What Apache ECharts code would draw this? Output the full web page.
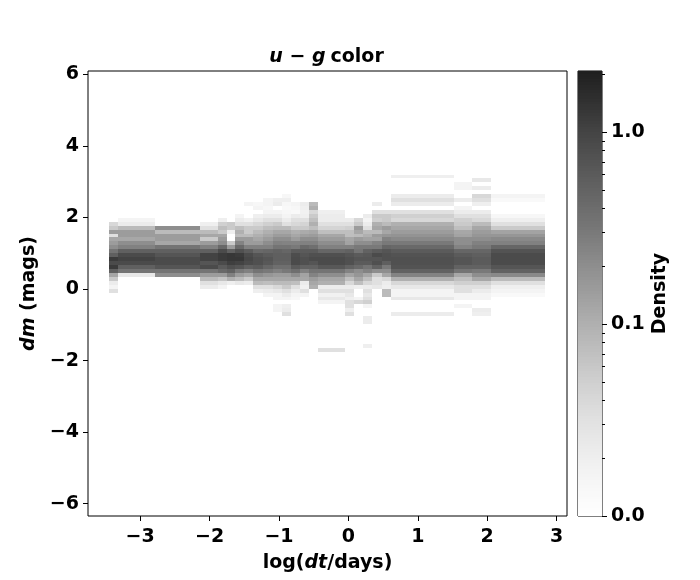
<!DOCTYPE html>
<html><head><meta charset="utf-8">
<script src="https://cdn.jsdelivr.net/npm/echarts@6/dist/echarts.min.js"></script>
<style>html,body{margin:0;padding:0;background:#fff}#c{width:700px;height:580px}</style>
</head><body><div id="c"></div>
<script>
// ---- data: 2D histogram of dm vs log(dt), density per column ----
const xEdges = [-3.454,-3.320,-2.791,-2.143,-1.883,-1.753,-1.628,-1.499,-1.369,-1.225,-1.091,-0.961,-0.827,-0.697,-0.572,-0.438,-0.053,0.076,0.210,0.346,0.480,0.610,1.517,1.777,2.051,2.829];
const yBinStart = -1.86;   // lower edge of dm bin 0
const yBinWidth = 0.11;    // dm bin width
const colStartBin = [16,20,20,17,17,18,18,18,16,15,11,10,14,15,17,1,10,13,2,17,15,10,12,10,15];
const colA = [0.032,0.016,0.022,0.056,0.12,0.54,1.19,0.85,1.19,0.54,0.34,0.2,0.15,0.12,0.032,0.15,0.056,0.04];
const colB = [0.025,0.34,0.54,0.85,1.02,0.85,0.54,0.26,0.2,0.12,0.15,0.15,0.079,0.022,0.016];
const colC = [0.2,0.34,0.68,0.85,0.85,0.68,0.54,0.34,0.12,0.15,0.15,0.079,0.2];
const colD = [0.022,0.032,0.079,0.15,0.34,0.85,0.68,1.02,1.02,0.54,0.26,0.15,0.056,0.12,0.079,0.032,0.02];
const colE = [0.016,0.025,0.063,0.15,0.43,0.6,0.85,1.19,1.19,0.85,0.43,0.2,0.15,0.12,0.056,0.071,0.05,0.02];
const colF = [0.02,0.1,0.26,0.51,0.77,1.1,1.28,1.28,0.54,0.15,0.056,0,0,0.02,0.056,0.056];
const colG = [0.025,0.079,0.15,0.3,0.68,1.02,1.28,1.19,0.77,0.43,0.25,0.15,0.079,0.1,0.071,0.032,0.022,0.016];
const colH = [0.022,0.056,0.12,0.26,0.54,0.85,0.94,0.85,0.6,0.26,0.15,0.15,0.079,0.056,0.056,0.032,0.018,0,0,0,0.016];
const colI = [0.02,0.032,0.079,0.12,0.2,0.34,0.6,0.77,0.77,0.68,0.43,0.26,0.15,0.12,0.1,0.079,0.056,0.04,0.025,0.02,0,0.016,0.014];
const colJ = [0.016,0.022,0.032,0.071,0.12,0.17,0.3,0.47,0.64,0.68,0.6,0.47,0.26,0.2,0.15,0.12,0.1,0.071,0.05,0.032,0.022,0.016,0.014,0.016,0.016];
const colK = [0.016,0.016,0,0.016,0.016,0.025,0.04,0.079,0.12,0.15,0.26,0.38,0.51,0.55,0.55,0.51,0.34,0.26,0.2,0.15,0.12,0.079,0.056,0.032,0.022,0.016,0,0.022,0.02];
const colL = [0.032,0.022,0.02,0,0.016,0.022,0.032,0.056,0.079,0.12,0.15,0.3,0.38,0.51,0.55,0.55,0.47,0.34,0.25,0.2,0.15,0.12,0.079,0.032,0.022,0.016,0.014,0.013,0.014,0.02,0.014];
const colM = [0.014,0.016,0.022,0.032,0.071,0.12,0.2,0.38,0.6,0.85,0.85,0.81,0.6,0.3,0.25,0.15,0.12,0.1,0.056,0.04,0.032,0.022,0.013,0.014,0.016];
const colN = [0.016,0.032,0.018,0.022,0.12,0.13,0.26,0.51,0.77,0.77,0.68,0.6,0.43,0.26,0.2,0.14,0.11,0.056,0.045,0.032,0.02,0.018,0.02,0.022];
const colO = [0.1,0.12,0.15,0.25,0.34,0.51,0.68,0.85,0.77,0.6,0.38,0.26,0.2,0.15,0.12,0.071,0.1,0.071,0.056,0.04,0.1,0.079];
const colP = [0.032,0,0,0,0,0,0,0,0,0,0,0,0.016,0.025,0.018,0.032,0.022,0.1,0.12,0.2,0.34,0.64,0.85,0.85,0.77,0.47,0.26,0.2,0.15,0.12,0.071,0.045,0.032,0.022,0.022,0.02];
const colQ = [0.032,0.02,0.032,0.032,0.02,0.025,0.032,0.022,0.04,0.071,0.13,0.25,0.51,0.77,0.77,0.68,0.51,0.26,0.13,0.12,0.071,0.071,0.05,0.032,0.022];
const colR = [0.04,0.016,0,0,0.02,0.071,0.12,0.17,0.2,0.43,0.6,0.68,0.6,0.34,0.3,0.2,0.15,0.079,0.12,0.15,0.056,0.04];
const colS = [0.02,0,0,0,0,0,0.022,0.022,0,0,0.016,0.05,0.032,0.025,0.032,0.022,0.04,0.071,0.12,0.25,0.34,0.6,0.68,0.64,0.51,0.3,0.2,0.13,0.1,0.079,0.032,0.022,0.016,0.022];
const colT = [0.025,0.032,0.032,0.056,0.2,0.51,0.77,0.68,0.85,0.6,0.3,0.25,0.13,0.15,0.079,0.12,0.1,0.05,0.056,0.032,0,0.022];
const colU = [0.079,0.079,0.02,0.022,0.04,0.12,0.2,0.3,0.55,0.77,0.77,0.68,0.47,0.3,0.25,0.17,0.12,0.15,0.079,0.056,0.056,0.032];
const colV = [0.022,0,0,0,0.025,0.016,0.016,0.025,0.04,0.1,0.25,0.51,0.72,0.77,0.77,0.72,0.6,0.43,0.3,0.22,0.18,0.15,0.12,0.1,0.04,0.05,0.032,0,0.022,0.032,0.022,0,0,0,0,0.02];
const colW = [0.016,0,0.016,0.016,0.032,0.032,0.05,0.071,0.12,0.34,0.51,0.68,0.68,0.6,0.47,0.25,0.2,0.2,0.13,0.12,0.071,0.056,0.05,0.032,0.022,0.016,0,0.022,0,0,0.016,0.016];
const colX = [0.02,0.022,0,0,0.016,0.016,0.022,0.032,0.05,0.12,0.2,0.3,0.51,0.6,0.6,0.55,0.47,0.3,0.26,0.2,0.17,0.15,0.12,0.079,0.04,0.032,0.022,0,0.02,0.032,0.04,0,0.022,0,0.025];
const colY = [0.013,0.016,0.02,0.032,0.079,0.22,0.51,0.68,0.85,0.85,0.85,0.72,0.47,0.26,0.22,0.17,0.13,0.056,0.032,0.02,0.014,0,0,0,0.013,0.016];
const columns = [colA,colB,colC,colD,colE,colF,colG,colH,colI,colJ,colK,colL,colM,colN,colO,colP,colQ,colR,colS,colT,colU,colV,colW,colX,colY];

const xTicks = [-3,-2,-1,0,1,2,3];
const yTicks = [-6,-4,-2,0,2,4,6];
const densityMin = 0.01, densityMax = 2.08;   // log colour norm
const cbarMajor = [0.01, 0.1, 1.0];
const cbarMinor = [0.02,0.03,0.04,0.05,0.06,0.07,0.08,0.09,0.2,0.3,0.4,0.5,0.6,0.7,0.8,0.9,2.0];

// ---- colour mapping (log norm, grey colormap) ----
const posMax = Math.log10(densityMax / densityMin);
const greyStops = [[0,255],[0.1,243],[0.2,228],[0.3,208],[0.43,176],[0.55,145],[0.65,118],[0.75,95],[0.863,68],[1,30]];
function greyAt(t) {
  t = Math.max(0, Math.min(1, t));
  for (let i = 1; i < greyStops.length; i++) {
    if (t <= greyStops[i][0]) {
      const [t0, g0] = greyStops[i-1], [t1, g1] = greyStops[i];
      const g = Math.round(g0 + (g1 - g0) * (t - t0) / (t1 - t0));
      return 'rgb(' + g + ',' + g + ',' + g + ')';
    }
  }
  return 'rgb(30,30,30)';
}
const toPos = v => Math.log10(v / densityMin);
function colorOf(v) { return greyAt(toPos(Math.max(v, densityMin)) / posMax); }

// ---- build cells ----
const cells = [];
columns.forEach((vals, ci) => {
  vals.forEach((v, k) => {
    if (v <= 0) return;
    const bin = colStartBin[ci] + k;
    const y0 = yBinStart + bin * yBinWidth;
    cells.push([xEdges[ci], xEdges[ci+1], y0, y0 + yBinWidth, v]);
  });
});
const cbarSteps = [];
const NSTEP = 160;
for (let i = 0; i < NSTEP; i++) cbarSteps.push([0, 1, posMax * i / NSTEP, posMax * (i + 1) / NSTEP]);

const FONT = 'DejaVu Sans';
const minus = v => (v < 0 ? '\u2212' + Math.abs(v) : String(v));
const boldRich = {
  b: { fontFamily: FONT, fontWeight: 'bold', fontSize: 19, color: '#000' },
  i: { fontFamily: FONT, fontWeight: 'bold', fontStyle: 'italic', fontSize: 19, color: '#000' }
};

function rectItem(api, x0, x1, y0, y1, fill) {
  const a = api.coord([x0, y1]);
  const b = api.coord([x1, y0]);
  const x = Math.round(a[0]), y = Math.round(a[1]);
  return { type: 'rect', shape: { x: x, y: y, width: Math.round(b[0]) - x, height: Math.round(b[1]) - y }, style: { fill: fill } };
}

const chart = echarts.init(document.getElementById('c'), null, { renderer: 'canvas' });
chart.setOption({
  animation: false,
  backgroundColor: '#fff',
  title: {
    text: '{i|u \u2212 g} {b|color}',
    left: 321.5, top: 43, textAlign: 'center',
    textStyle: { rich: boldRich }
  },
  grid: [
    { left: 88, top: 71, width: 479, height: 445, show: true, borderColor: '#000', borderWidth: 1, backgroundColor: 'transparent' },
    { left: 578, top: 71, width: 24, height: 445, show: true, borderColor: '#000', borderWidth: 1, backgroundColor: 'transparent' }
  ],
  xAxis: [
    {
      gridIndex: 0, type: 'value', min: -3.752, max: 3.150, position: 'bottom',
      axisLine: { show: false, onZero: false }, splitLine: { show: false },
      axisTick: { show: true, length: 5, lineStyle: { color: '#000' }, customValues: xTicks },
      axisLabel: { show: true, margin: 12, customValues: xTicks, formatter: minus,
        fontFamily: FONT, fontWeight: 'bold', fontSize: 19, color: '#000' },
      name: '{b|log(}{i|dt}{b|/days)}', nameLocation: 'middle', nameGap: 38,
      nameTextStyle: { rich: boldRich }
    },
    { gridIndex: 1, type: 'value', min: 0, max: 1, show: false, axisLine: { onZero: false } }
  ],
  yAxis: [
    {
      gridIndex: 0, type: 'value', min: -6.344, max: 6.093, position: 'left',
      axisLine: { show: false, onZero: false }, splitLine: { show: false },
      axisTick: { show: true, length: 5, lineStyle: { color: '#000' }, customValues: yTicks },
      axisLabel: { show: true, margin: 9, customValues: yTicks, formatter: minus,
        fontFamily: FONT, fontWeight: 'bold', fontSize: 19, color: '#000' },
      name: '{i|dm}{b| (mags)}', nameLocation: 'middle', nameRotate: 90, nameGap: 47,
      nameTextStyle: { rich: boldRich }
    },
    {
      gridIndex: 1, type: 'value', position: 'right', min: 0, max: posMax,
      axisLine: { show: false, onZero: false }, splitLine: { show: false },
      axisTick: { show: true, length: 5, lineStyle: { color: '#000' }, customValues: cbarMajor.map(toPos) },
      axisLabel: { show: true, margin: 9, customValues: cbarMajor.map(toPos),
        formatter: p => (densityMin * Math.pow(10, p)).toFixed(1),
        fontFamily: FONT, fontWeight: 'bold', fontSize: 19, color: '#000' },
      name: 'Density', nameLocation: 'middle', nameRotate: 90, nameGap: 49,
      nameTextStyle: { fontFamily: FONT, fontWeight: 'bold', fontSize: 19, color: '#000' }
    },
    {
      gridIndex: 1, type: 'value', position: 'right', min: 0, max: posMax,
      axisLine: { show: false, onZero: false }, splitLine: { show: false },
      axisTick: { show: true, length: 3, lineStyle: { color: '#000' }, customValues: cbarMinor.map(toPos) },
      axisLabel: { show: false }
    }
  ],
  series: [
    {
      type: 'custom', xAxisIndex: 0, yAxisIndex: 0,
      dimensions: ['x0', 'x1', 'y0', 'y1', 'density'],
      encode: { x: [0, 1], y: [2, 3] },
      data: cells,
      renderItem: (params, api) => rectItem(api, api.value(0), api.value(1), api.value(2), api.value(3), colorOf(api.value(4)))
    },
    {
      type: 'custom', xAxisIndex: 1, yAxisIndex: 1,
      encode: { x: [0, 1], y: [2, 3] },
      data: cbarSteps,
      renderItem: (params, api) => rectItem(api, api.value(0), api.value(1), api.value(2), api.value(3), greyAt((api.value(2) + api.value(3)) / 2 / posMax))
    }
  ]
});
</script></body></html>
